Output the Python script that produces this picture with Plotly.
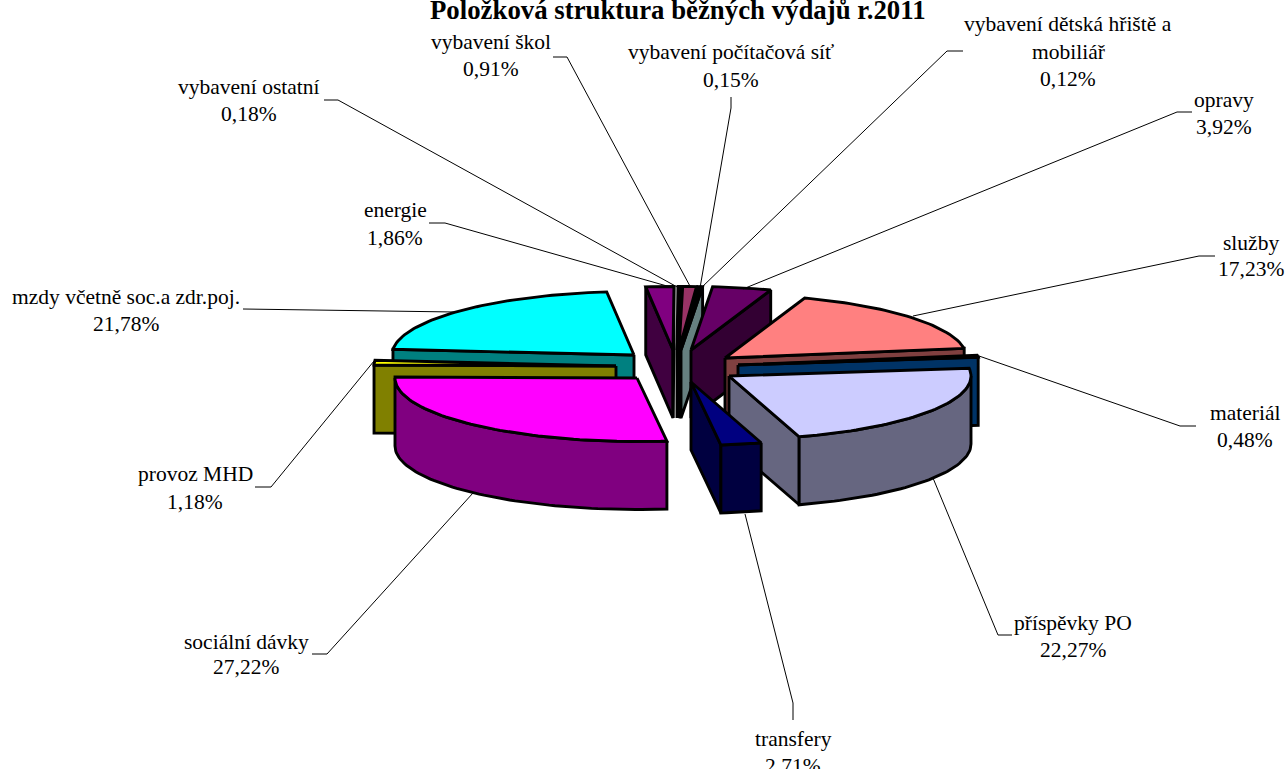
import math
import plotly.graph_objects as go

# ---- data (clockwise, starting from the first slice after the start angle) ----
slice_names = ["sociální dávky", "provoz MHD", "mzdy včetně soc.a zdr.poj.", "energie",
               "vybavení ostatní", "vybavení škol", "vybavení počítačová síť",
               "vybavení dětská hřiště a mobiliář", "opravy", "služby", "materiál",
               "příspěvky PO", "transfery"]
slice_values = [27.22, 1.18, 21.78, 1.86, 0.18, 0.91, 0.15, 0.12, 3.92, 17.23, 0.48, 22.27, 2.71]
top_colors = ["#FF00FF", "#FFFF00", "#00FFFF", "#800080", "#9999FF", "#993366", "#FFFFCC",
              "#CCFFFF", "#660066", "#FF8080", "#0066CC", "#CCCCFF", "#000080"]
wall_colors = ["#800080", "#808000", "#008080", "#400040", "#4D4D80", "#4D1A33", "#808066",
               "#668080", "#330033", "#804040", "#003366", "#666680", "#000040"]
title_text = "Položková struktura běžných výdajů r.2011"

# ---- layout of the projected pie ----
START_ANGLE = 172.9
RX, RY, DEPTH = 242.0, 63.5, 68.0
apex_x = [637, 616, 634, 673, 677, 679, 680, 681, 691, 725, 738, 729, 691]
apex_y = [378, 366, 355, 350, 350, 350, 350, 350, 350, 358, 365, 376, 382]
draw_order = [3, 4, 5, 6, 7, 8, 2, 1, 0, 9, 10, 11, 12]

# leader lines per slice: label end -> elbow -> slice
leaders = {
    0: [(312, 654), (327, 654), (473, 493)],
    1: [(255, 487), (271, 487), (374, 361)],
    2: [(243, 309), (455, 312)],
    3: [(429, 223), (445, 223), (674, 288)],
    4: [(324, 100), (338, 100), (679, 288)],
    5: [(553, 57), (567, 57), (691, 288)],
    6: [(731, 97), (731, 108), (700, 288)],
    7: [(963, 51), (947, 51), (701, 288)],
    8: [(1192, 112), (1177, 112), (743, 289)],
    9: [(1215, 256), (1199, 256), (913, 316)],
    10: [(1196, 426), (1180, 426), (979, 356)],
    11: [(1012, 635), (998, 635), (933, 478)],
    12: [(793, 720), (793, 703), (745, 514)],
}
# label lines per slice: centre x, y of each text line
label_x = [246, 195, 126, 395, 249, 491, 731, 1068, 1224, 1251, 1245, 1073, 793]
label_y = [[642, 667], [474, 502], [297, 324], [210, 238], [87, 114], [42, 69], [52, 80],
           [24, 52, 79], [100, 127], [243, 269], [413, 440], [623, 650], [739, 766]]
label_lines = {7: ["vybavení dětská hřiště a", "mobiliář"]}

FONT = "Liberation Serif"
OUT = 2.9


def rim(cx, cy, t):
    r = math.radians(t)
    return cx + RX * math.sin(r), cy - RY * math.cos(r)


def arc(cx, cy, a, b, dy=0.0):
    n = max(2, int(abs(b - a) / 1.5) + 2)
    pts = [rim(cx, cy, a + (b - a) * i / (n - 1)) for i in range(n)]
    return [(x, y + dy) for x, y in pts]


fig = go.Figure()


def poly(pts, color):
    pts = list(pts) + [pts[0]]
    fig.add_trace(go.Scatter(x=[p[0] for p in pts], y=[p[1] for p in pts], mode="lines",
                             fill="toself", fillcolor=color,
                             line=dict(color="#000000", width=OUT),
                             hoverinfo="skip", showlegend=False))


# angular extent of each slice comes from its value
total = sum(slice_values)
starts, ends = [], []
angle = START_ANGLE
for v in slice_values:
    starts.append(angle)
    angle += v / total * 360.0
    ends.append(angle)

for i in draw_order:
    cx, cy = apex_x[i], apex_y[i]
    a, b = starts[i], ends[i]
    wall = wall_colors[i]
    # radial walls facing the viewer
    for t, visible in ((a, math.sin(math.radians(a)) < 0), (b, math.sin(math.radians(b)) > 0)):
        if visible:
            rx_, ry_ = rim(cx, cy, t)
            poly([(cx, cy), (rx_, ry_), (rx_, ry_ + DEPTH), (cx, cy + DEPTH)], wall)
    # outer curved wall, front half of the ellipse only
    for lo, hi in ((90, 270), (450, 630)):
        w0, w1 = max(a, lo), min(b, hi)
        if w1 > w0:
            poly(arc(cx, cy, w0, w1) + arc(cx, cy, w1, w0, DEPTH), wall)
    # top face
    poly([(cx, cy)] + arc(cx, cy, a, b), top_colors[i])

# leader lines
for i, pts in leaders.items():
    fig.add_trace(go.Scatter(x=[p[0] for p in pts], y=[p[1] for p in pts], mode="lines",
                             line=dict(color="#000000", width=1),
                             hoverinfo="skip", showlegend=False))

annotations = []


def text(x, y, s, size=21.5, bold=False):
    annotations.append(dict(x=x, y=y, xref="x", yref="y", text=f"<b>{s}</b>" if bold else s,
                            showarrow=False, xanchor="center", yanchor="middle",
                            font=dict(family=FONT, size=size, color="#000000")))


for i, name in enumerate(slice_names):
    lines = label_lines.get(i, [name]) + [f"{slice_values[i]:.2f}".replace(".", ",") + "%"]
    for s, y in zip(lines, label_y[i]):
        text(label_x[i], y, s)
text(678, 10, title_text, size=26.8, bold=True)

fig.update_layout(
    width=1285, height=769, margin=dict(l=0, r=0, t=0, b=0),
    paper_bgcolor="#FFFFFF", plot_bgcolor="#FFFFFF", showlegend=False,
    xaxis=dict(range=[0, 1285], visible=False, fixedrange=True),
    yaxis=dict(range=[769, 0], visible=False, fixedrange=True),
    annotations=annotations,
)
fig.write_html("out.html", config={"displayModeBar": False},
               post_script="document.body.style.margin='0';document.documentElement.style.overflow='hidden';")
